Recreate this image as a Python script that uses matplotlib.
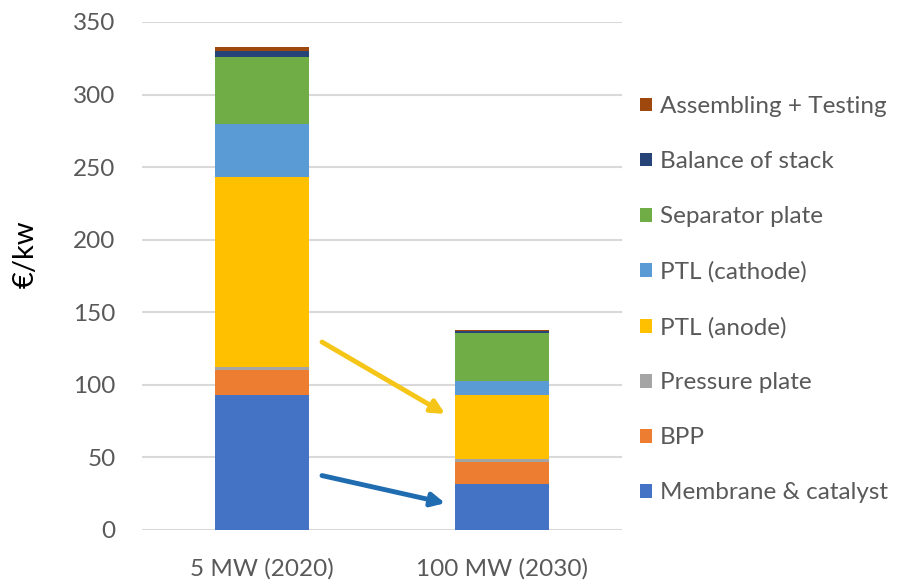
import matplotlib
matplotlib.use("Agg")
import matplotlib.pyplot as plt
from matplotlib.patches import Patch

categories = ["5 MW (2020)", "100 MW (2030)"]
components = [
    "Membrane & catalyst",
    "BPP",
    "Pressure plate",
    "PTL (anode)",
    "PTL (cathode)",
    "Separator plate",
    "Balance of stack",
    "Assembling + Testing",
]
costs_2020 = [93, 17.5, 2, 130.5, 37, 46, 4, 3]
costs_2030 = [32, 15, 2, 44, 10, 33, 1, 0.5]
colors = ["#4472C4", "#ED7D31", "#A5A5A5", "#FFC000",
          "#5B9BD5", "#70AD47", "#264478", "#9E480E"]
y_ticks = [0, 50, 100, 150, 200, 250, 300, 350]

plt.rcParams["font.family"] = ["Lato", "DejaVu Sans"]
text_color = "#595959"

fig = plt.figure(figsize=(8.99, 5.87), dpi=100)
ax = fig.add_axes([142 / 899, 1 - 530 / 587, 480 / 899, 508 / 587])

x = range(len(categories))
bottoms = [0.0] * len(categories)
for name, c, v20, v30 in zip(components, colors, costs_2020, costs_2030):
    vals = [v20, v30]
    ax.bar(x, vals, width=0.395, bottom=bottoms, color=c, label=name, zorder=3)
    bottoms = [b + v for b, v in zip(bottoms, vals)]

ax.set_xlim(-0.5, 1.5)
ax.set_ylim(0, 350)
ax.set_yticks(y_ticks)
ax.set_xticks(list(x))
ax.set_xticklabels(categories)
ax.yaxis.grid(True, color="#D9D9D9", linewidth=1.5, zorder=0)
ax.set_axisbelow(True)
for s in ax.spines.values():
    s.set_visible(False)
ax.tick_params(axis="both", length=0, labelsize=17.5, colors=text_color)
ax.tick_params(axis="y", pad=19)
ax.tick_params(axis="x", pad=20)

# Reduction arrows between the two scenarios
ax.annotate("", xy=(0.763, 80), xytext=(0.25, 129.5),
            arrowprops=dict(arrowstyle="-|>,head_length=0.8,head_width=0.4",
                            color="#F5C518", lw=3.5, shrinkA=0, shrinkB=0),
            zorder=4)
ax.annotate("", xy=(0.763, 18.5), xytext=(0.25, 37.5),
            arrowprops=dict(arrowstyle="-|>,head_length=0.8,head_width=0.4",
                            color="#1F6CB0", lw=3.5, shrinkA=0, shrinkB=0),
            zorder=4)

fig.text(26 / 899, 1 - 254 / 587, "€/kw", rotation=90, ha="center", va="center",
         fontsize=21, color="#000000")

handles = [Patch(facecolor=c, edgecolor="none") for c in colors][::-1]
labels = components[::-1]
leg = fig.legend(handles, labels, loc="upper left",
                 bbox_to_anchor=(628 / 899, 1 - 84 / 587), frameon=False,
                 fontsize=17.5, handlelength=0.5, handleheight=0.5,
                 handletextpad=0.3, labelspacing=1.4, borderpad=0)
for t in leg.get_texts():
    t.set_color(text_color)

fig.savefig("out.png", dpi=100)
